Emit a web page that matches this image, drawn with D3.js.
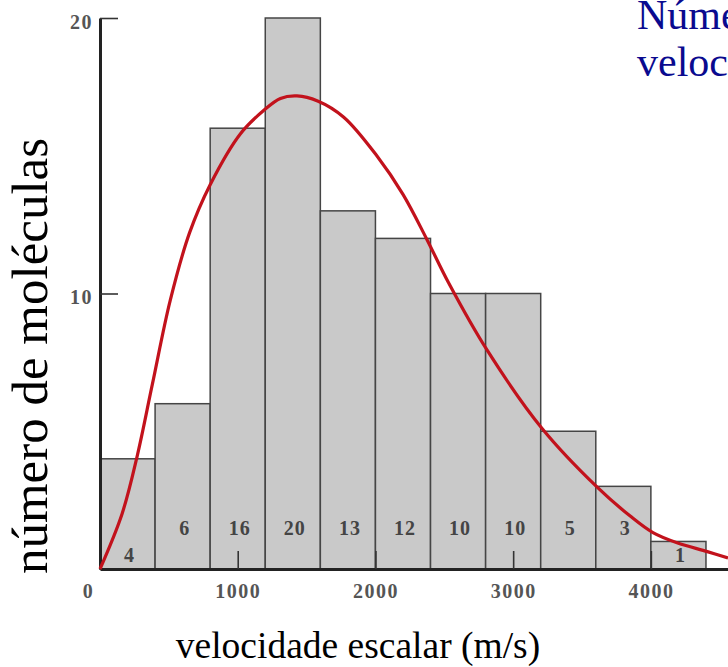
<!DOCTYPE html>
<html>
<head>
<meta charset="utf-8">
<script src="https://cdn.jsdelivr.net/npm/d3@7"></script>
<style>
	body { margin: 0; background: #fff; }
	svg { display: block; }
</style>
</head>
<body>
<div class="plot"></div>
<script>
// histogram bins (m/s), counts per bin
const binStarts = [0, 400, 800, 1200, 1600, 2000, 2400, 2800, 3200, 3600, 4000];
const binWidth = 400;
const counts = [4, 6, 16, 20, 13, 12, 10, 10, 5, 3, 1];
// a couple of labels sit lower in their bars
const labelLow = [true, false, false, false, false, false, false, false, false, false, true];

// red curve, points
const curveV = [0, 160, 270, 380, 510, 650, 800, 1020, 1190, 1310, 1430, 1580, 1770, 2010, 2200, 2370, 2530, 2810, 3210, 3610, 3850, 4015, 4190, 4410, 4560];
const curveN = [0, 2.0, 4.1, 6.7, 9.75, 12.2, 13.95, 15.8, 16.65, 17.08, 17.17, 16.99, 16.4, 15.0, 13.6, 12.0, 10.4, 7.95, 5.1, 2.97, 1.92, 1.32, 0.95, 0.63, 0.4];

const xTicks = [0, 1000, 2000, 3000, 4000];
const yTicks = [10, 20];

const w = 728, h = 667;
const serif = '"Liberation Serif", "Times New Roman", serif';

const svg = d3.select('.plot').append('svg')
	.attr('width', w)
	.attr('height', h);

const x = d3.scaleLinear().domain([0, 4560]).range([100, 728]);
const y = d3.scaleLinear().domain([0, 20]).range([569, 18]);

// bars
svg.append('g').selectAll('rect')
	.data(counts)
	.enter().append('rect')
	.attr('x', (d, i) => x(binStarts[i]))
	.attr('y', d => y(d))
	.attr('width', (d, i) => x(binStarts[i] + binWidth) - x(binStarts[i]))
	.attr('height', d => y(0) - y(d))
	.attr('fill', '#c9c9c9')
	.attr('stroke', '#454545')
	.attr('stroke-width', 1.5);

// count labels inside bars
svg.append('g').selectAll('text')
	.data(counts)
	.enter().append('text')
	.attr('x', (d, i) => x(binStarts[i] + binWidth / 2) + 2)
	.attr('y', (d, i) => labelLow[i] ? 562 : 535)
	.attr('text-anchor', 'middle')
	.attr('font-family', serif)
	.attr('font-weight', 'bold')
	.attr('font-size', 20)
	.attr('letter-spacing', 1)
	.attr('fill', '#444')
	.text(d => d);

// axes
const xAxis = d3.axisBottom(x)
	.tickValues(xTicks)
	.tickSizeInner(-18)
	.tickSizeOuter(0)
	.tickPadding(15)
	.tickFormat(d3.format('d'));
const gx = svg.append('g')
	.attr('transform', `translate(0,${y(0)})`)
	.call(xAxis);

const yAxis = d3.axisLeft(y)
	.tickValues(yTicks)
	.tickSizeInner(-18)
	.tickSizeOuter(0)
	.tickPadding(7);
const gy = svg.append('g')
	.attr('transform', `translate(${x(0)},0)`)
	.call(yAxis);

[gx, gy].forEach(g => {
	g.select('.domain').attr('stroke', '#222').attr('stroke-width', 3);
	g.selectAll('.tick line').attr('stroke', '#333').attr('stroke-width', 1.6);
	g.selectAll('.tick text')
		.attr('font-family', serif)
		.attr('font-weight', 'bold')
		.attr('font-size', 20)
		.attr('letter-spacing', 1.5)
		.attr('fill', '#555');
});
gx.selectAll('.tick text').filter(d => d === 0).attr('dx', -12);
gy.selectAll('.tick text').attr('dy', '0.5em');

// red curve
const line = d3.line()
	.x((d, i) => x(curveV[i]))
	.y(d => y(d))
	.curve(d3.curveCatmullRom.alpha(0.5));
svg.append('path')
	.datum(curveN)
	.attr('d', line)
	.attr('fill', 'none')
	.attr('stroke', '#c2121c')
	.attr('stroke-width', 3.2);

// titles
svg.append('text')
	.attr('x', 358)
	.attr('y', 658)
	.attr('text-anchor', 'middle')
	.attr('font-family', serif)
	.attr('font-size', 37.5)
	.attr('fill', '#000')
	.text('velocidade escalar (m/s)');

svg.append('text')
	.attr('transform', 'translate(47,356) rotate(-90)')
	.attr('text-anchor', 'middle')
	.attr('font-family', serif)
	.attr('font-size', 51)
	.attr('fill', '#000')
	.text('número de moléculas');

const note = svg.append('text')
	.attr('font-family', serif)
	.attr('font-size', 42)
	.attr('fill', '#0a0a8f');
note.append('tspan').attr('x', 637).attr('y', 29).text('Número de moléculas');
note.append('tspan').attr('x', 637).attr('y', 76).text('velocidade');
</script>
</body>
</html>
